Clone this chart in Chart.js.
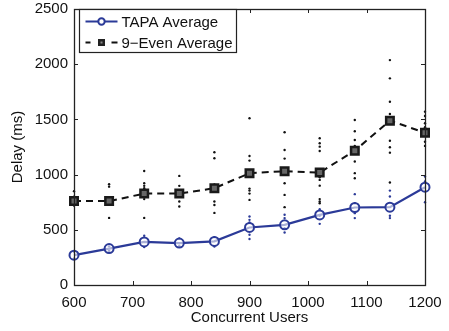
<!DOCTYPE html>
<html>
<head>
<meta charset="utf-8">
<script src="https://cdn.jsdelivr.net/npm/chart.js@4/dist/chart.umd.min.js"></script>
<style>
  html, body { margin: 0; padding: 0; background: #fff; }
  #wrap { width: 449px; height: 331px; position: relative; }
</style>
</head>
<body>
<div id="wrap"><canvas id="c"></canvas></div>
<script>
// ---- data ----
const users = [600, 660, 720, 780, 840, 900, 960, 1020, 1080, 1140, 1200];
const tapaAverage = [270, 330, 390, 380, 395, 521, 545, 635, 702, 705, 886];
const evenAverage = [760, 760, 828, 828, 877, 1013, 1031, 1018, 1217, 1488, 1380];
// individual runs (dots) per user count
const tapaRuns = [
  [300, 240], [350, 310], [446, 344], [421, 355], [434, 349],
  [620, 590, 566, 455, 416], [636, 606, 515, 476], [687, 627, 554],
  [823, 741, 651, 606], [855, 801, 627, 606], [982, 937, 750]
];
const evenRuns = [
  [850, 800, 720], [913, 891, 608], [1033, 922, 898, 877, 855, 801, 778, 608],
  [988, 898, 801, 756, 711], [1202, 1148, 910, 885, 756, 725, 653],
  [1510, 1169, 1127, 873, 855, 828, 771], [1383, 1223, 1145, 1027, 922, 816, 705],
  [1329, 1284, 1253, 1214, 976, 952, 900, 778, 756, 741],
  [1495, 1392, 1314, 1260, 1214, 1118, 1013, 967],
  [2037, 1872, 1660, 1549, 1307, 1248, 1199, 928],
  [1570, 1531, 1465, 1429, 1298, 1260]
];
const xTicks = [600, 700, 800, 900, 1000, 1100, 1200];
const yTicks = [0, 500, 1000, 1500, 2000, 2500];
const seriesNames = ['TAPA Average', '9\u2212Even Average'];
const axisTitles = ['Concurrent Users', 'Delay (ms)'];

const BLUE = '#2b3a98';
const FONT = '"Liberation Sans", Arial, Helvetica, sans-serif';

function runsToPoints(runs) {
  const pts = [];
  runs.forEach((arr, i) => arr.forEach(v => pts.push({ x: users[i], y: v })));
  return pts;
}

const boxTicks = {
  id: 'boxTicks',
  afterDatasetsDraw(chart) {
    const { ctx, chartArea: a, scales: { x, y } } = chart;
    ctx.save();
    ctx.strokeStyle = '#222';
    ctx.lineWidth = 1;
    ctx.beginPath();
    xTicks.forEach(v => {
      const px = Math.round(x.getPixelForValue(v)) + 0.5;
      ctx.moveTo(px, a.bottom); ctx.lineTo(px, a.bottom - 4);
      ctx.moveTo(px, a.top); ctx.lineTo(px, a.top + 4);
    });
    yTicks.forEach(v => {
      const py = Math.round(y.getPixelForValue(v)) + 0.5;
      ctx.moveTo(a.left, py); ctx.lineTo(a.left + 4, py);
      ctx.moveTo(a.right, py); ctx.lineTo(a.right - 4, py);
    });
    ctx.stroke();
    ctx.lineWidth = 1.3;
    ctx.strokeRect(Math.round(a.left) + 0.5, Math.round(a.top) + 0.5,
                   Math.round(a.right - a.left), Math.round(a.bottom - a.top));
    ctx.restore();
  }
};

const legendBox = {
  id: 'legendBox',
  afterDraw(chart) {
    const { ctx, chartArea: a } = chart;
    const bx = a.left + 5.5, by = a.top + 0.5, bw = 157, bh = 43;
    ctx.save();
    ctx.fillStyle = '#fff';
    ctx.fillRect(bx, by, bw, bh);
    ctx.strokeStyle = '#222';
    ctx.lineWidth = 1.2;
    ctx.strokeRect(bx, by, bw, bh);
    const x0 = bx + 6, x1 = bx + 38, mx = bx + 22;
    const r1 = by + 12, r2 = by + 33;
    // row 1
    ctx.strokeStyle = BLUE; ctx.lineWidth = 2;
    ctx.beginPath(); ctx.moveTo(x0, r1); ctx.lineTo(x1, r1); ctx.stroke();
    ctx.fillStyle = '#fff';
    ctx.beginPath(); ctx.arc(mx, r1, 3.2, 0, Math.PI * 2); ctx.fill(); ctx.stroke();
    // row 2
    ctx.strokeStyle = '#111'; ctx.lineWidth = 2;
    ctx.beginPath();
    ctx.moveTo(x0, r2); ctx.lineTo(x0 + 5, r2);
    ctx.moveTo(x1 - 6, r2); ctx.lineTo(x1, r2);
    ctx.stroke();
    ctx.fillStyle = '#222';
    ctx.fillRect(mx - 3.5, r2 - 3.5, 7, 7);
    ctx.fillStyle = '#888';
    ctx.fillRect(mx - 1, r2 - 1, 2, 2);
    // text
    ctx.fillStyle = '#111';
    ctx.font = '15px ' + FONT;
    ctx.textBaseline = 'middle';
    ctx.textAlign = 'left';
    ctx.fillText(seriesNames[0], bx + 42, r1 + 1);
    ctx.fillText(seriesNames[1], bx + 42, r2 + 1);
    ctx.restore();
  }
};

new Chart(document.getElementById('c'), {
  type: 'scatter',
  data: {
    datasets: [
      {
        label: seriesNames[1],
        type: 'line',
        data: users.map((u, i) => ({ x: u, y: evenAverage[i] })),
        borderColor: '#111',
        borderWidth: 2,
        borderDash: [7, 5],
        pointStyle: 'rect',
        pointRadius: 5.3,
        pointBorderWidth: 2.5,
        pointBorderColor: '#1a1a1a',
        pointBackgroundColor: '#666',
        tension: 0,
        clip: false,
        order: 2
      },
      {
        label: seriesNames[0],
        type: 'line',
        data: users.map((u, i) => ({ x: u, y: tapaAverage[i] })),
        borderColor: BLUE,
        borderWidth: 2.2,
        pointStyle: 'circle',
        pointRadius: 4.5,
        pointBorderWidth: 2,
        pointBorderColor: BLUE,
        pointBackgroundColor: 'rgba(255,255,255,0.6)',
        tension: 0,
        clip: false,
        order: 1
      },
      {
        label: 'even runs',
        data: runsToPoints(evenRuns),
        pointRadius: 1.2,
        pointBorderWidth: 0,
        backgroundColor: '#111',
        borderColor: '#111',
        showLine: false,
        clip: false,
        order: 4
      },
      {
        label: 'tapa runs',
        data: runsToPoints(tapaRuns),
        pointRadius: 1.2,
        pointBorderWidth: 0,
        backgroundColor: BLUE,
        borderColor: BLUE,
        showLine: false,
        clip: false,
        order: 3
      }
    ]
  },
  options: {
    responsive: true,
    maintainAspectRatio: false,
    animation: false,
    layout: { padding: { top: 9, right: 24, left: 0, bottom: 0 } },
    plugins: { legend: { display: false }, tooltip: { enabled: false } },
    scales: {
      x: {
        type: 'linear',
        min: 600, max: 1200,
        afterBuildTicks: s => { s.ticks = xTicks.map(v => ({ value: v })); },
        afterFit: s => { s.height = 46; s.paddingLeft = 0; s.paddingRight = 0; },
        grid: { display: false, drawTicks: false },
        border: { display: false },
        ticks: { padding: 9, color: '#111', font: { size: 15, family: FONT }, maxRotation: 0, callback: v => String(v) },
        title: { display: true, text: axisTitles[0], color: '#111', font: { size: 15, family: FONT }, padding: { top: 0, bottom: 4 } }
      },
      y: {
        type: 'linear',
        min: 0, max: 2500,
        afterBuildTicks: s => { s.ticks = yTicks.map(v => ({ value: v })); },
        afterFit: s => { s.width = 74; s.paddingTop = 0; s.paddingBottom = 0; },
        grid: { display: false, drawTicks: false },
        border: { display: false },
        ticks: { padding: 6, color: '#111', font: { size: 15, family: FONT }, callback: v => String(v) },
        title: { display: true, text: axisTitles[1], color: '#111', font: { size: 15, family: FONT }, padding: { top: 9, bottom: 0 } }
      }
    }
  },
  plugins: [boxTicks, legendBox]
});
</script>
</body>
</html>
